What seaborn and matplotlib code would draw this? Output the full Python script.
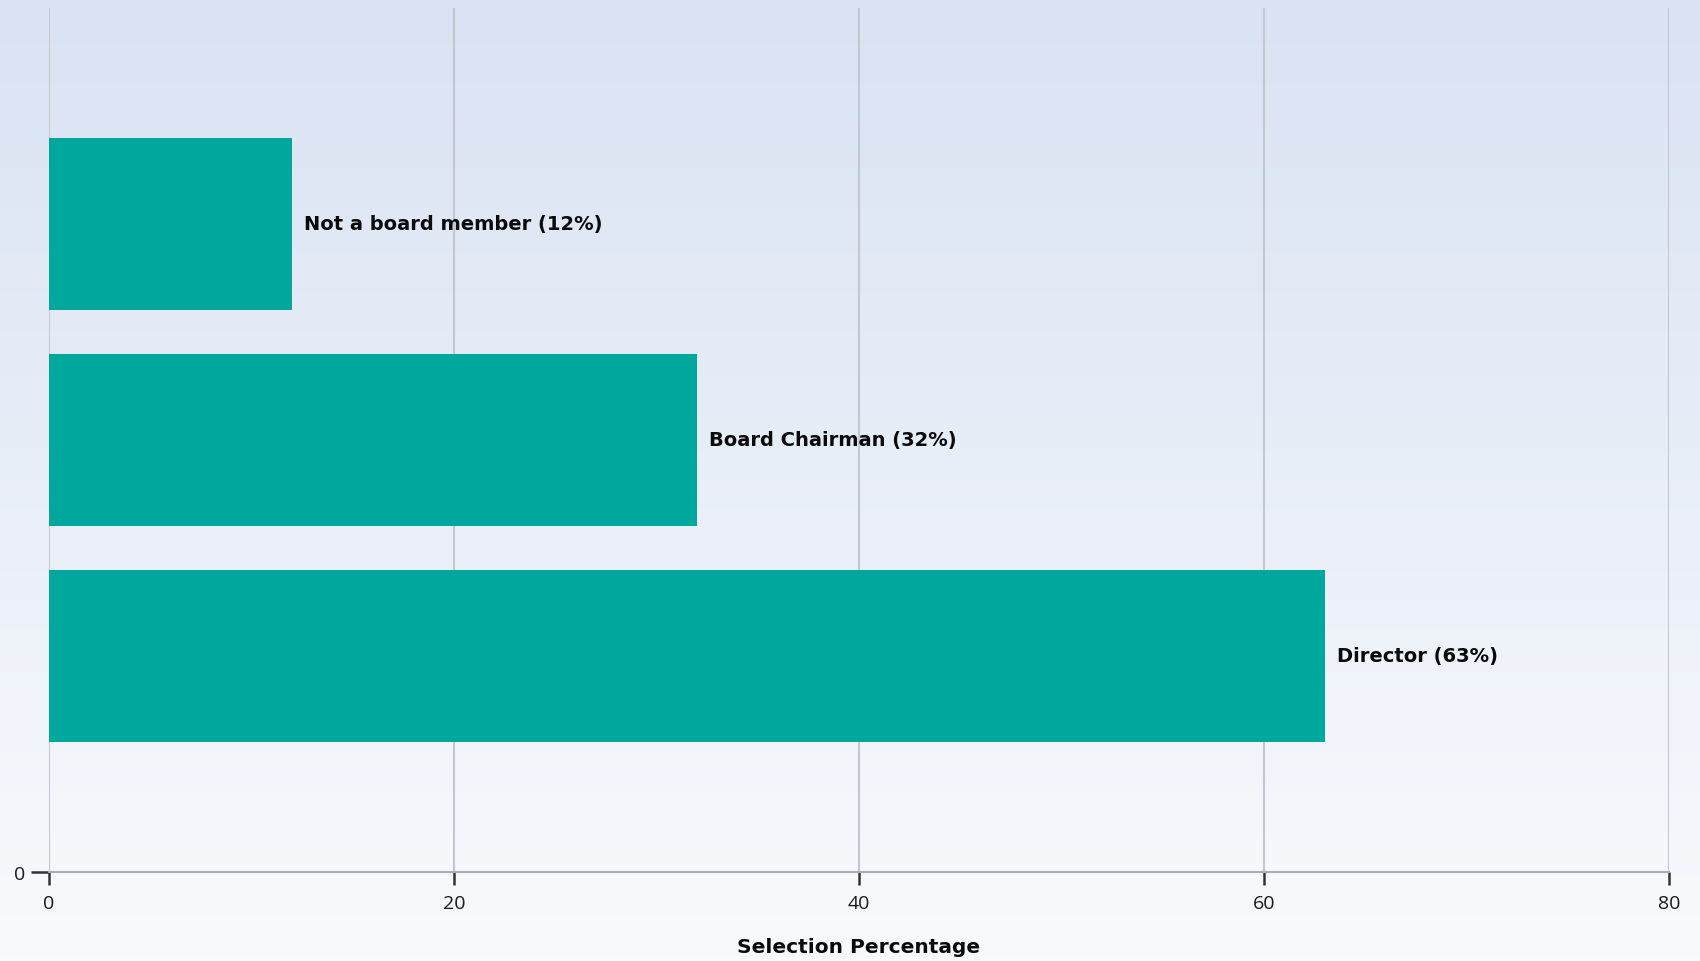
import numpy as np
import pandas as pd
import seaborn as sns
import matplotlib.pyplot as plt

# data
roles = ["Not a board member", "Board Chairman", "Director"]
percent = [12, 32, 63]
x_ticks = [0, 20, 40, 60, 80]

df = pd.DataFrame({"role": roles, "pct": percent})

sns.set_style("white")
plt.rcParams["font.family"] = ["Open Sans", "DejaVu Sans"]

fig = plt.figure(figsize=(17, 9.62), dpi=100)

# gradient background over the whole figure
bg = fig.add_axes([0, 0, 1, 1], zorder=-10)
grad = np.linspace(0, 1, 256).reshape(-1, 1)
top_c = np.array([0xd9, 0xe3, 0xf3]) / 255
bot_c = np.array([0xf9, 0xfa, 0xfd]) / 255
img = top_c * (1 - grad[..., None]) + bot_c * grad[..., None]
bg.imshow(img, aspect="auto", extent=[0, 1, 0, 1])
bg.set_axis_off()

ax = fig.add_axes([0.0288, 0.0925, 0.9530, 0.8982])
ax.patch.set_alpha(0)

sns.barplot(data=df, x="pct", y="role", orient="h", color="#00a79d",
            saturation=1, width=0.8, linewidth=0, edgecolor="none",
            ax=ax, zorder=3)

for i, (r, p) in enumerate(zip(roles, percent)):
    ax.text(p + 0.6, i, f"{r} ({p}%)", va="center", ha="left",
            fontsize=14, fontweight="bold", color="#0a0a0a",
            family=["DejaVu Sans"], zorder=4)

ax.set_xlim(0, 80)
ax.set_ylim(3.0, -1.0)
ax.set_xticks(x_ticks)
ax.set_xticklabels([str(t) for t in x_ticks], fontsize=14, color="#1a1a1a")
ax.set_yticks([3.0])
ax.set_yticklabels(["0"], fontsize=14, color="#1a1a1a")

ax.grid(axis="x", color="#c3c7cf", linewidth=1.5, zorder=0)
ax.set_axisbelow(True)
for s in ["top", "right", "left"]:
    ax.spines[s].set_visible(False)
ax.spines["bottom"].set_color("#a9adb5")
ax.spines["bottom"].set_linewidth(1.5)
ax.tick_params(axis="x", bottom=True, direction="out", length=9, width=1.8,
               color="#333333", pad=7)
ax.tick_params(axis="y", left=True, direction="out", length=13, width=1.8,
               color="#333333", pad=4)

ax.set_xlabel("Selection Percentage", fontsize=14.5, fontweight="bold",
              color="#0a0a0a", labelpad=18, family=["DejaVu Sans"])
ax.set_ylabel("")

fig.savefig("out.png", dpi=100)
